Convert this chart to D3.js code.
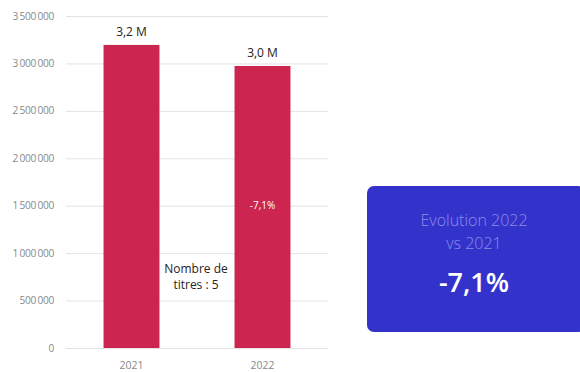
<!DOCTYPE html>
<html>
<head>
<meta charset="utf-8">
<script src="https://cdn.jsdelivr.net/npm/d3@7"></script>
<style>
  html, body { margin: 0; padding: 0; background: #ffffff; }
  svg { display: block; font-family: "Open Sans", "Noto Sans", sans-serif; }
</style>
</head>
<body>
<svg id="chart" width="580" height="372"></svg>
<script>
const categories = ["2021", "2022"];
const values = [3195000, 2973000];
const valueLabels = ["3,2 M", "3,0 M"];
const innerLabels = ["", "-7,1%"];
const yTicks = [0, 500000, 1000000, 1500000, 2000000, 2500000, 3000000, 3500000];
const noteLines = ["Nombre de", "titres : 5"];
const cardTitle = ["Evolution 2022", "vs 2021"];
const cardValue = "-7,1%";

const svg = d3.select("#chart");
const x0 = 66, x1 = 328, yTop = 16, yBot = 348;

const x = d3.scaleBand().domain(categories).range([x0, x1])
  .paddingInner(0.573).paddingOuter(0.2865);
const y = d3.scaleLinear().domain([0, 3500000]).range([yBot, yTop]);

const fmt = v => d3.format(",")(v).replace(/,/g, "\u2009");

// gridlines
svg.append("g").selectAll("line").data(yTicks).join("line")
  .attr("x1", x0).attr("x2", x1)
  .attr("y1", d => y(d) + 0.5).attr("y2", d => y(d) + 0.5)
  .attr("stroke", "#e3e3e3").attr("stroke-width", 1);

// y labels
svg.append("g").selectAll("text").data(yTicks).join("text")
  .attr("x", 54).attr("y", d => y(d)).attr("dy", "0.35em")
  .attr("text-anchor", "end").attr("font-size", 10.2)
  .attr("letter-spacing", -0.3)
  .attr("fill", "#8a8a8a").text(fmt);

// bars
svg.append("g").selectAll("rect").data(values).join("rect")
  .attr("x", (d, i) => x(categories[i])).attr("width", x.bandwidth())
  .attr("y", d => y(d)).attr("height", d => yBot - y(d))
  .attr("fill", "#cc2550");

// value labels
svg.append("g").selectAll("text").data(values).join("text")
  .attr("x", (d, i) => x(categories[i]) + x.bandwidth() / 2)
  .attr("y", d => y(d) - 9)
  .attr("text-anchor", "middle").attr("font-size", 12)
  .attr("fill", "#252423").text((d, i) => valueLabels[i]);

// inner labels
svg.append("g").selectAll("text").data(values).join("text")
  .attr("x", (d, i) => x(categories[i]) + x.bandwidth() / 2)
  .attr("y", d => y(d / 2) + 2)
  .attr("text-anchor", "middle").attr("font-size", 10)
  .attr("fill", "#ffffff").text((d, i) => innerLabels[i]);

// x labels
svg.append("g").selectAll("text").data(categories).join("text")
  .attr("x", d => x(d) + x.bandwidth() / 2).attr("y", 372)
  .attr("dy", "-0.3em")
  .attr("text-anchor", "middle").attr("font-size", 10.5)
  .attr("fill", "#8a8a8a").text(d => d);

// note
svg.append("g").selectAll("text").data(noteLines).join("text")
  .attr("x", 196).attr("y", (d, i) => 273 + i * 16)
  .attr("text-anchor", "middle").attr("font-size", 12)
  .attr("fill", "#252423").text(d => d);

// card
const card = svg.append("g");
card.append("rect").attr("x", 367).attr("y", 186).attr("width", 218).attr("height", 146)
  .attr("rx", 7).attr("fill", "#3333cc");
card.selectAll("text.t").data(cardTitle).join("text").attr("class", "t")
  .attr("x", 474).attr("y", (d, i) => 226 + i * 23)
  .attr("text-anchor", "middle").attr("font-size", 16).attr("font-weight", 300)
  .attr("fill", "#8c8ce6").text(d => d);
card.append("text").attr("x", 474).attr("y", 292)
  .attr("text-anchor", "middle").attr("font-size", 27).attr("font-weight", 600)
  .attr("fill", "#ffffff").text(cardValue);
</script>
</body>
</html>
